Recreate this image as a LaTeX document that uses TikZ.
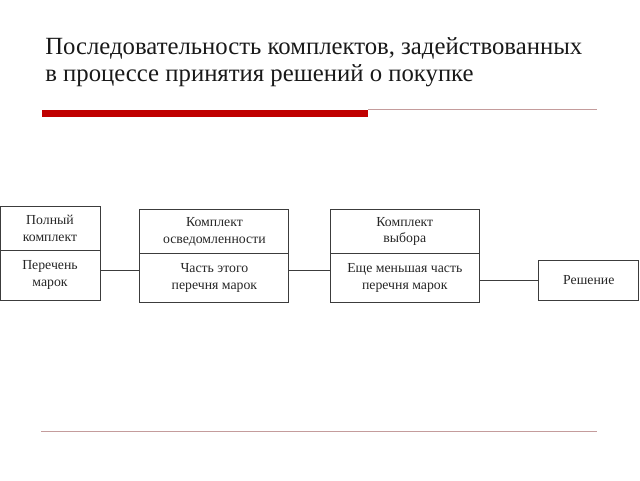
\documentclass[tikz,border=0pt]{standalone}
\usepackage{fontspec}
\setmainfont{Liberation Serif}
\usepackage{tikz}
\usetikzlibrary{positioning}

\definecolor{barred}{RGB}{192,0,0}
\definecolor{rulerose}{RGB}{196,156,156}
\definecolor{boxgray}{RGB}{60,60,60}

\begin{document}
\begin{tikzpicture}
			\tikzstyle{Title}	= [anchor=base west, inner sep=0pt, font=\fontsize{17.6}{19}\selectfont, text=black!90]
			\tikzstyle{Part}	= [draw=boxgray, line width=0.7pt, align=center, inner sep=0pt, font=\fontsize{9.8}{11.8}\selectfont, text=black!85]
			\tikzstyle{Small}	= [minimum width=2.5cm]
			\tikzstyle{Wide}	= [minimum width=3.725cm]
			\tikzstyle{Head}	= [minimum height=1.083cm]
			\tikzstyle{Body}	= [minimum height=1.233cm]
			\tikzstyle{Link}	= [boxgray, line width=0.7pt]
			
			\useasboundingbox (0,0) rectangle (16,12);
			
			\node (t1) at (1.125,10.625) [Title] {Последовательность комплектов, задействованных};
			\node (t2) at (1.125,9.96) [Title] {в процессе принятия решений о покупке};
			
			\fill [barred] (1.05,9.08) rectangle (9.2,9.26);
			\draw [rulerose, line width=0.7pt] (9.2,9.27) -- (14.93,9.27);
			\draw [rulerose, line width=1pt] (1.025,1.21) -- (14.93,1.21);
			
			\node (h1) at (1.25,6.29) [Part][Small][minimum height=1.08cm] {Полный\\комплект};
			\node (p1) at (1.25,5.125) [Part][Small][minimum height=1.25cm] {Перечень\\марок};
			
			\node (h2) at (5.36,6.21) [Part][Wide][Head] {Комплект\\осведомленности};
			\node (p2) at (5.36,5.05) [Part][Wide][Body] {Часть этого\\перечня марок};
			
			\node (h3) at (10.12,6.21) [Part][Wide][Head] {Комплект\\выбора};
			\node (p3) at (10.12,5.05) [Part][Wide][Body] {Еще меньшая часть\\перечня марок};
			
			\node (d) at (14.72,5.0) [Part][Small][minimum height=1cm] {Решение};
			
			\draw (p1.east |- 0,5.25) to (p2.west |- 0,5.25) [Link];
			\draw (p2.east |- 0,5.25) to (p3.west |- 0,5.25) [Link];
			\draw (p3.east |- d.west) to (d.west) [Link];
		\end{tikzpicture}
\end{document}
